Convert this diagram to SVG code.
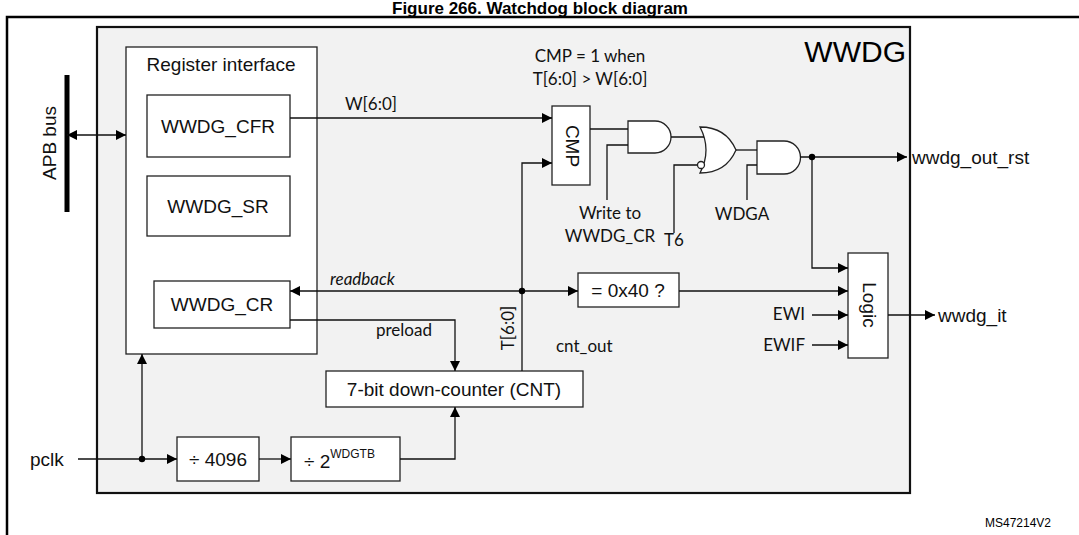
<svg xmlns="http://www.w3.org/2000/svg" width="1079" height="535" viewBox="0 0 1079 535">
<defs>
<marker id="ah" viewBox="0 0 10 10" refX="10" refY="5" markerWidth="10" markerHeight="10" markerUnits="userSpaceOnUse" orient="auto-start-reverse"><path d="M0,0L10,5L0,10z" fill="#000"/></marker>
<style>
.b{fill:#fff;stroke:#222;stroke-width:1.3}
.t{font-family:"Liberation Sans",Arial,sans-serif;font-size:19px;fill:#111}
.c{font-family:Lato,"Liberation Sans",sans-serif;font-size:17px;fill:#111}
.w{fill:none;stroke:#111;stroke-width:1.3}
.a{marker-end:url(#ah)}
</style>
</defs>
<rect width="1079" height="535" fill="#fff"/>
<text x="540" y="14" text-anchor="middle" font-family="Liberation Sans,Arial,sans-serif" font-weight="bold" font-size="17">Figure 266. Watchdog block diagram</text>
<path d="M7,535V17H1079" fill="none" stroke="#000" stroke-width="2.5"/>
<rect x="97" y="27" width="813" height="466" fill="#f2f2f2" stroke="#111" stroke-width="2.2"/>
<text x="906" y="62" text-anchor="end" font-family="Liberation Sans Narrow,Liberation Sans,sans-serif" font-size="30">WWDG</text>
<g id="regif"><rect class="b" x="126" y="47" width="191" height="307"/><text class="t" x="221" y="71" text-anchor="middle" font-size="18">Register interface</text></g>
<g id="cfr"><rect class="b" x="147" y="95" width="143" height="62"/><text class="t" x="218" y="133" text-anchor="middle">WWDG_CFR</text></g>
<g id="sr"><rect class="b" x="147" y="176" width="143" height="60"/><text class="t" x="218" y="213" text-anchor="middle">WWDG_SR</text></g>
<g id="cr"><rect class="b" x="154" y="281" width="136" height="47"/><text class="t" x="222" y="311" text-anchor="middle">WWDG_CR</text></g>
<g id="cnt"><rect class="b" x="326" y="371" width="257" height="36"/><text class="t" x="454" y="396" text-anchor="middle">7-bit down-counter (CNT)</text></g>
<g id="div1"><rect class="b" x="177" y="437" width="82" height="44"/><text class="t" x="218" y="466" text-anchor="middle">÷ 4096</text></g>
<g id="div2"><rect class="b" x="291" y="437" width="109" height="44"/><text class="t" x="304" y="468">÷ 2<tspan font-size="12" dy="-10">WDGTB</tspan></text></g>
<g id="cmp"><rect class="b" x="552" y="106" width="38" height="79"/><text class="t" x="571" y="146" text-anchor="middle" dominant-baseline="middle" transform="rotate(90 571 146)">CMP</text></g>
<g id="eq"><rect class="b" x="578" y="273" width="101" height="34"/><text class="t" x="628" y="297" text-anchor="middle">= 0x40 ?</text></g>
<g id="logic"><rect class="b" x="848" y="253" width="40" height="105"/><text class="t" x="868" y="305" text-anchor="middle" dominant-baseline="middle" transform="rotate(90 868 305)">Logic</text></g>
<g id="and1"><path class="b" d="M628,121H655A16,16 0 0 1 655,153H628Z"/></g>
<g id="or1"><path class="b" d="M700,127Q726,127 736,150Q726,173 700,173Q712,150 700,127Z"/><circle class="b" cx="701" cy="165" r="3.5"/></g>
<g id="and2"><path class="b" d="M757,141H784A16.5,16.5 0 0 1 784,174H757Z"/></g>
<g id="apb"><line x1="67" y1="75" x2="67" y2="212" stroke="#000" stroke-width="5"/><text class="t" x="56" y="143" text-anchor="middle" font-size="16" transform="rotate(-90 56 143)">APB bus</text></g>
<g id="connectors">
<path class="w a" d="M290,118H552"/>
<path class="w a" d="M522,371V163H552"/>
<path class="w" d="M590,129H628"/>
<path class="w" d="M607,200V145H628"/>
<path class="w" d="M671,137H704"/>
<path class="w" d="M674,233V165H697"/>
<path class="w" d="M736,150H757"/>
<path class="w" d="M747,200V165H757"/>
<path class="w a" d="M800,157H907"/>
<path class="w a" d="M812,157V268H848"/>
<path class="w a" d="M522,291H578"/>
<path class="w a" d="M522,291H290"/>
<path class="w a" d="M679,291H848"/>
<path class="w a" d="M812,315H848"/>
<path class="w a" d="M812,345H848"/>
<path class="w a" d="M888,315H935"/>
<path class="w a" d="M290,320H455V371"/>
<path class="w a" d="M400,459H455V407"/>
<path class="w a" d="M78,459H177"/>
<path class="w a" d="M259,459H291"/>
<path class="w a" d="M142,459V354"/>
<path class="w a" d="M67,135H126" style="marker-start:url(#ah)"/>
<circle cx="522" cy="291" r="3.2"/><circle cx="812" cy="157" r="3.2"/><circle cx="142" cy="459" r="3.2"/>
</g>
<text class="c" x="590" y="62" text-anchor="middle">CMP = 1 when</text>
<text class="c" x="590" y="85" text-anchor="middle">T[6:0] &gt; W[6:0]</text>
<text class="c" x="345" y="110">W[6:0]</text>
<text class="c" x="610" y="219" text-anchor="middle">Write to</text>
<text class="c" x="610" y="242" text-anchor="middle">WWDG_CR</text>
<text class="c" x="664" y="246">T6</text>
<text class="c" x="742" y="220" text-anchor="middle">WDGA</text>
<text class="c" x="330" y="285" font-style="italic">readback</text>
<text class="c" x="376" y="336">preload</text>
<text class="c" x="510" y="328" text-anchor="middle" dominant-baseline="middle" transform="rotate(-90 510 328)">T[6:0]</text>
<text class="c" x="556" y="352">cnt_out</text>
<text class="c" x="805" y="320" text-anchor="end">EWI</text>
<text class="c" x="805" y="351" text-anchor="end">EWIF</text>
<text class="t" x="938" y="322">wwdg_it</text>
<text class="t" x="912" y="164">wwdg_out_rst</text>
<text class="t" x="30" y="466">pclk</text>
<text x="985" y="527" font-family="Liberation Sans,Arial,sans-serif" font-size="12">MS47214V2</text>
</svg>
